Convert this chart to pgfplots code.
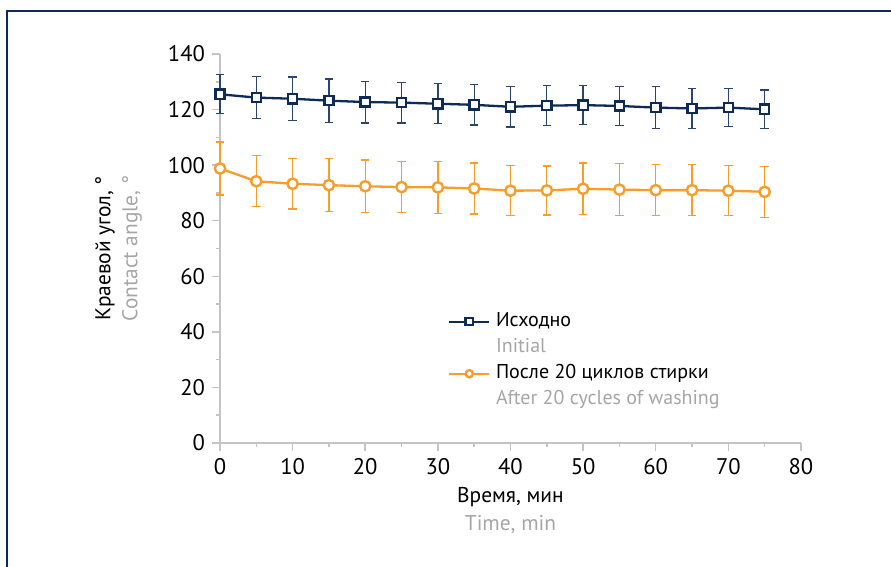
\documentclass[border=0pt]{standalone}
\usepackage{pgfplots}
\pgfplotsset{compat=1.18}
\usepackage{pgfplotstable}
\usepackage{fontspec}
\setmainfont{PT Sans}
\definecolor{navy}{HTML}{0D2B56}
\definecolor{navyerr}{HTML}{2A4670}
\definecolor{orng}{HTML}{F89C2A}
\definecolor{lgray}{HTML}{A6A6A6}
\definecolor{axgray}{HTML}{C4C4C4}

\pgfplotstableread{
x y e
0 125.5 7.0
5 124.3 7.5
10 123.9 7.8
15 123.2 7.8
20 122.7 7.5
25 122.5 7.3
30 122.1 7.2
35 121.7 7.3
40 121.0 7.3
45 121.4 7.2
50 121.6 7.1
55 121.3 7.1
60 120.7 7.5
65 120.4 7.2
70 120.7 6.8
75 120.1 6.9
}\initialdata

\pgfplotstableread{
x y e
0 98.8 9.5
5 94.2 9.2
10 93.3 9.1
15 92.8 9.5
20 92.4 9.5
25 92.1 9.2
30 92.0 9.3
35 91.6 9.2
40 90.8 9.0
45 90.9 8.8
50 91.5 9.3
55 91.2 9.3
60 91.0 9.2
65 91.0 9.2
70 90.8 9.0
75 90.4 9.2
}\washeddata

\begin{document}
\begin{tikzpicture}
\path[use as bounding box] (0pt,0pt) rectangle (445.5pt,283.5pt);
\draw[navy, line width=0.8pt] (3.5pt,-2pt) -- (3.5pt,278pt) -- (448pt,278pt);
\begin{axis}[
  at={(110pt,62pt)}, anchor=south west,
  scale only axis, width=290.5pt, height=194.5pt,
  xmin=0, xmax=80, ymin=0, ymax=140,
  xtick={0,10,...,80}, ytick={0,20,...,140},
  minor x tick num=1, minor y tick num=1,
  axis x line=bottom, axis y line=left,
  axis line style={axgray, line width=0.75pt, -},
  tick style={axgray, line width=0.75pt},
  tick align=outside,
  major tick length=4pt, minor tick length=2pt,
  clip=false,
  tick label style={font=\fontsize{11.3}{13}\selectfont},
  /pgf/number format/assume math mode=true,
  xlabel={Время, мин\\\textcolor{lgray}{Time, min}},
  xlabel style={align=center, at={(axis description cs:0.5,-0.1748)}, anchor=center, font=\fontsize{10.7}{14}\selectfont},
  ylabel={Краевой угол, °\\\textcolor{lgray}{Contact angle, °}},
  ylabel style={align=center, at={(axis description cs:-0.1747,0.5)}, anchor=center, font=\fontsize{10.7}{13.5}\selectfont},
  legend style={at={(0.392,0.336)}, anchor=north west, draw=none, fill=none, inner sep=0pt, row sep=4pt,
    font=\fontsize{10}{12}\selectfont, nodes={text height=7pt, text depth=2pt, inner ysep=0pt, inner xsep=2.8pt}},
  legend cell align=left,
  legend image code/.code={\draw[mark repeat=2,mark phase=2,mark size=1.8pt] plot coordinates {(0pt,0pt)(10pt,0pt)(20pt,0pt)};},
]
\addplot[navy, line width=1.15pt, mark=square*, mark size=2.3pt, mark options={fill=white, line width=1.2pt, solid},
  error bars/.cd, y dir=both, y explicit,
  error bar style={navyerr, line width=0.65pt},
  error mark options={navyerr, line width=0.65pt, mark size=2.1pt, rotate=90}]
  table[x=x, y=y, y error=e] {\initialdata};
\addlegendentry{Исходно}
\addlegendimage{empty legend}
\addlegendentry{\textcolor{lgray}{Initial}}
\addplot[orng, line width=1.15pt, mark=*, mark size=2.6pt, mark options={fill=white, line width=1.2pt, solid},
  error bars/.cd, y dir=both, y explicit,
  error bar style={orng, line width=0.65pt},
  error mark options={orng, line width=0.65pt, mark size=2.1pt, rotate=90}]
  table[x=x, y=y, y error=e] {\washeddata};
\addlegendentry{После 20 циклов стирки}
\addlegendimage{empty legend}
\addlegendentry{\textcolor{lgray}{After 20 cycles of washing}}
\end{axis}
\end{tikzpicture}
\end{document}
